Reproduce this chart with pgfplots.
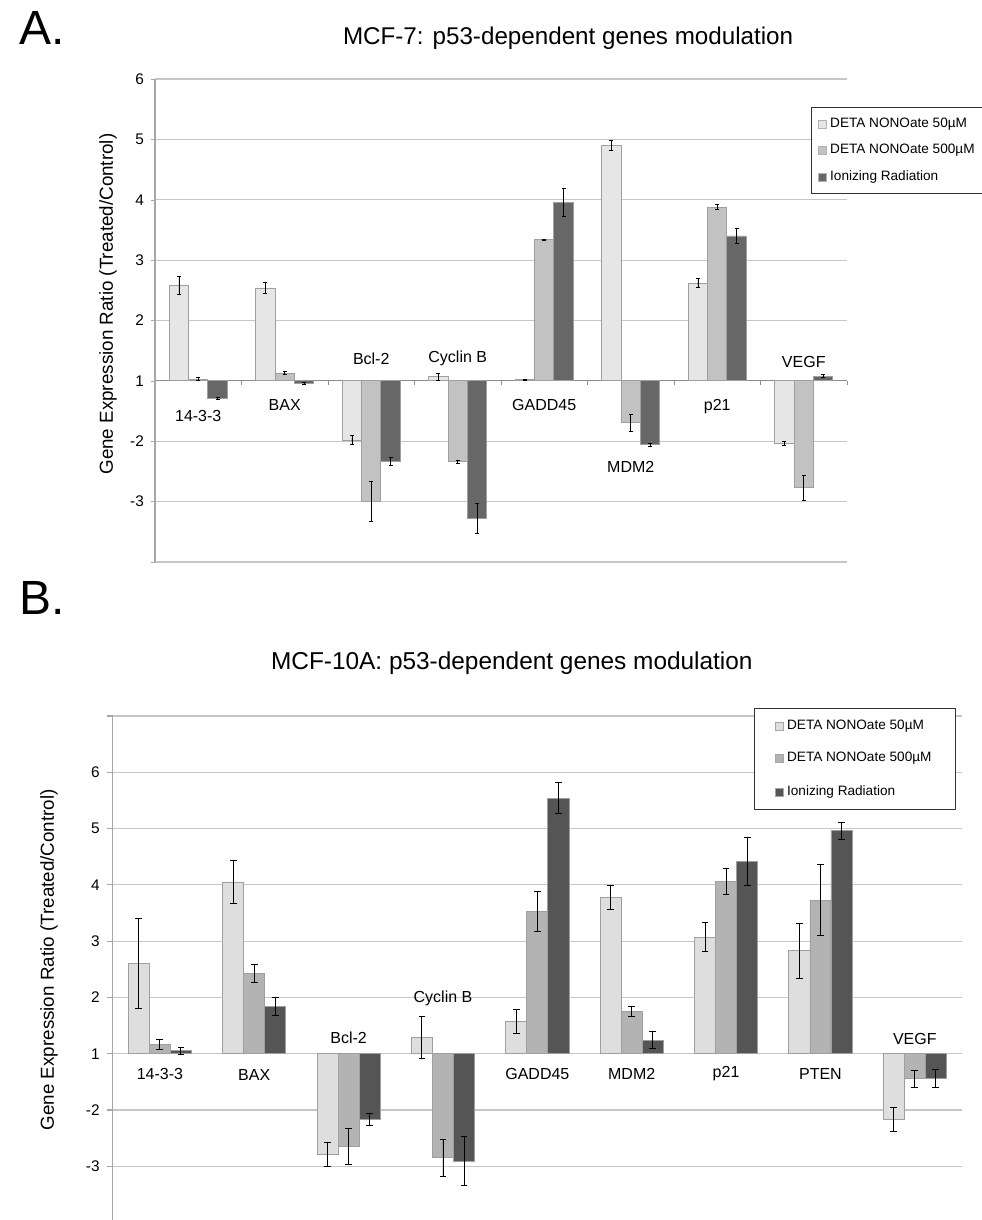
\documentclass[border=0pt]{standalone}
\usepackage{pgfplots}
\pgfplotsset{compat=1.18}
\usepackage{pgfplotstable}
\usepackage{fontspec}
\setmainfont{Liberation Sans}

\definecolor{aone}{HTML}{E6E6E6}
\definecolor{atwo}{HTML}{C2C2C2}
\definecolor{athree}{HTML}{676767}
\definecolor{bone}{HTML}{DEDEDE}
\definecolor{btwo}{HTML}{B3B3B3}
\definecolor{bthree}{HTML}{555555}
\definecolor{gridc}{HTML}{C6C6C6}

% y is plotted as (ratio-1) above the baseline and -(ratio-1) below it
% xa/xb/xc: bar centres; a b c: 50uM, 500uM, ionizing radiation; *e: errors
\pgfplotstableread{
xa xb xc a ae b be c ce
-0.223 0 0.223 1.58 0.15 0.03 0.03 -0.29 0.02
0.777 1 1.223 1.54 0.09 0.13 0.02 -0.04 0.02
1.777 2 2.223 -0.98 0.08 -1.99 0.33 -1.33 0.07
2.777 3 3.223 0.07 0.06 -1.34 0.03 -2.28 0.25
3.777 4 4.223 0.02 0.01 2.34 0.01 2.96 0.23
4.777 5 5.223 3.90 0.08 -0.69 0.14 -1.06 0.02
5.777 6 6.223 1.62 0.075 2.88 0.045 2.40 0.125
6.777 7 7.223 -1.04 0.03 -1.77 0.21 0.08 0.02
}\mcfseven

\pgfplotstableread{
xa xb xc a ae b be c ce
-0.223 0 0.223 1.605 0.80 0.16 0.09 0.053 0.06
0.777 1 1.223 3.05 0.376 1.43 0.16 0.84 0.157
1.777 2 2.223 -1.79 0.207 -1.645 0.32 -1.16 0.107
2.777 3 3.223 0.29 0.37 -1.85 0.335 -1.905 0.43
3.777 4 4.223 0.57 0.21 2.53 0.355 4.54 0.27
4.777 5 5.223 2.78 0.215 0.746 0.09 0.243 0.157
5.777 6 6.223 2.07 0.255 3.06 0.23 3.41 0.43
6.777 7 7.223 1.83 0.49 2.73 0.63 3.96 0.15
7.777 8 8.223 -1.165 0.21 -0.444 0.15 -0.444 0.16
}\mcften

\pgfplotsset{
  gbar/.style={ybar, bar width=0.223, bar shift=0, draw=gray!75, line width=0.4pt,
    error bars/y dir=both, error bars/y explicit,
    error bars/error bar style={black, line width=0.45pt},
    error bars/error mark options={black, line width=0.45pt, rotate=90, mark size=#1}},
  gbar/.default=1pt,
}

\begin{document}
\begin{tikzpicture}
\begin{axis}[
  at={(77.5pt,-281pt)}, anchor=south west,
  scale only axis, width=346pt, height=241.5pt,
  xmin=-0.5, xmax=7.5, ymin=-3, ymax=5,
  axis x line*=middle, axis y line*=left,
  x axis line style={gray!90, line width=0.6pt},
  y axis line style={gray!70, line width=0.6pt},
  xtick={-0.5,0.5,1.5,2.5,3.5,4.5,5.5,6.5,7.5}, xticklabels={},
  x tick style={gray!90, line width=0.5pt}, xtick align=outside,
  major tick length=2pt,
  ytick={-3,-2,-1,0,1,2,3,4,5}, yticklabels={,-3,-2,1,2,3,4,5,6},
  y tick style={gray!70}, ytick align=outside,
  ymajorgrids, grid style={gridc, line width=0.6pt},
  tick label style={font=\fontsize{7.7}{9}\selectfont},
  /pgf/number format/assume math mode=true,
  ylabel={Gene Expression Ratio (Treated/Control)},
  ylabel style={font=\fontsize{9.4}{11}\selectfont, at={(rel axis cs:-0.068,0.534)}, anchor=center, rotate=0},
  title={MCF-7: p53-dependent genes modulation},
  title style={font=\fontsize{12.1}{14}\selectfont, at={(rel axis cs:0.597,1.0725)}, anchor=base, yshift=-6pt},
  legend style={at={(rel axis cs:0.948,0.942)}, anchor=north west,
    draw=black!80, line width=0.6pt, font=\fontsize{6.8}{8}\selectfont,
    row sep=3pt, inner xsep=3pt, inner ysep=3pt},
  legend cell align=left,
  legend image code/.code={\draw[#1, draw=gray!60, line width=0.3pt] (0pt,-2pt) rectangle (4pt,2pt);},
  clip=false,
]
\addplot[gbar, fill=aone] table[x=xa, y=a, y error=ae] {\mcfseven};
\addplot[gbar, fill=atwo] table[x=xb, y=b, y error=be] {\mcfseven};
\addplot[gbar, fill=athree] table[x=xc, y=c, y error=ce] {\mcfseven};
\legend{DETA NONOate 50µM, DETA NONOate 500µM, Ionizing Radiation}
\begin{scope}[every node/.style={font=\fontsize{8}{10}\selectfont}]
\node at (axis cs:0,-0.58) {14-3-3};
\node at (axis cs:1,-0.40) {BAX};
\node at (axis cs:2,0.37) {Bcl-2};
\node at (axis cs:3,0.37) {Cyclin B};
\node at (axis cs:4,-0.40) {GADD45};
\node at (axis cs:5,-1.43) {MDM2};
\node at (axis cs:6,-0.42) {p21};
\node at (axis cs:7,0.32) {VEGF};
\end{scope}
\node[font=\fontsize{24}{28}\selectfont, anchor=base west] at (rel axis cs:-0.2066,1.0725) {A.};
\end{axis}

\begin{axis}[
  at={(56.35pt,-609.9pt)}, anchor=south west,
  scale only axis, width=424.65pt, height=251.95pt,
  xmin=-0.5, xmax=8.5, ymin=-2.95, ymax=6,
  axis x line=none, axis y line*=left,
  y axis line style={gray!70, line width=0.6pt},
  ytick={-2,-1,0,1,2,3,4,5,6}, yticklabels={-3,-2,1,2,3,4,5,6,},
  y tick style={gray!70, line width=0.6pt}, ytick align=outside,
  major tick length=3pt,
  ymajorgrids, grid style={gridc, line width=0.6pt},
  tick label style={font=\fontsize{7.7}{9}\selectfont},
  /pgf/number format/assume math mode=true,
  ylabel={Gene Expression Ratio (Treated/Control)},
  ylabel style={font=\fontsize{9.4}{11}\selectfont, at={(rel axis cs:-0.075,0.516)}, anchor=center, rotate=0},
  title={MCF-10A: p53-dependent genes modulation},
  title style={font=\fontsize{12.2}{14}\selectfont, at={(rel axis cs:0.47,1.093)}, anchor=base, yshift=-6pt},
  legend style={at={(rel axis cs:0.755,1.0157)}, anchor=north west,
    draw=black!80, line width=0.6pt, font=\fontsize{6.8}{8}\selectfont,
    row sep=6.2pt, inner xsep=10pt, inner ysep=3.5pt},
  legend cell align=left,
  legend image code/.code={\draw[#1, draw=gray!70, line width=0.3pt] (0pt,-2pt) rectangle (4pt,2pt);},
  clip=false,
]
\addplot[gbar=1.7pt, fill=bone] table[x=xa, y=a, y error=ae] {\mcften};
\addplot[gbar=1.7pt, fill=btwo] table[x=xb, y=b, y error=be] {\mcften};
\addplot[gbar=1.7pt, fill=bthree] table[x=xc, y=c, y error=ce] {\mcften};
\legend{DETA NONOate 50µM, DETA NONOate 500µM, Ionizing Radiation}
\begin{scope}[every node/.style={font=\fontsize{8}{10}\selectfont}]
\node at (axis cs:0,-0.36) {14-3-3};
\node at (axis cs:1,-0.38) {BAX};
\node at (axis cs:2,0.29) {Bcl-2};
\node at (axis cs:3,0.99) {Cyclin B};
\node at (axis cs:4,-0.36) {GADD45};
\node at (axis cs:5,-0.35) {MDM2};
\node at (axis cs:6,-0.36) {p21};
\node at (axis cs:7,-0.36) {PTEN};
\node at (axis cs:8,0.27) {VEGF};
\end{scope}
\node[font=\fontsize{24}{28}\selectfont, anchor=base west] at (rel axis cs:-0.1186,1.202) {B.};
\end{axis}
\pgfresetboundingbox
\path (0pt,0pt) rectangle (490.5pt,-610pt);
\end{tikzpicture}
\end{document}
